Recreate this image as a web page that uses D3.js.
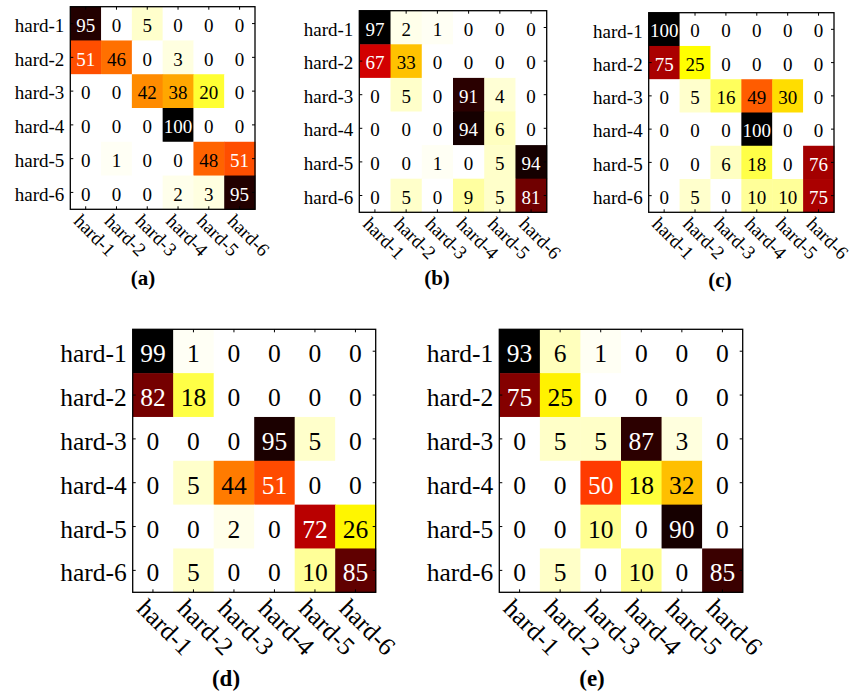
<!DOCTYPE html>
<html>
<head>
<meta charset="utf-8">
<script src="https://cdn.jsdelivr.net/npm/d3@7"></script>
<style>
  body { margin: 0; background: #fff; }
  svg { display: block; }
  svg text { font-family: "Liberation Serif", "Times New Roman", Times, serif; }
</style>
</head>
<body>
<svg id="chart" width="850" height="693"></svg>
<script>
// ---------------- data ----------------
const classes = ["hard-1", "hard-2", "hard-3", "hard-4", "hard-5", "hard-6"];
const panelLabels = ["(a)", "(b)", "(c)", "(d)", "(e)"];

const matrixA = [
  [95, 0, 5, 0, 0, 0],
  [51, 46, 0, 3, 0, 0],
  [0, 0, 42, 38, 20, 0],
  [0, 0, 0, 100, 0, 0],
  [0, 1, 0, 0, 48, 51],
  [0, 0, 0, 2, 3, 95]
];
const matrixB = [
  [97, 2, 1, 0, 0, 0],
  [67, 33, 0, 0, 0, 0],
  [0, 5, 0, 91, 4, 0],
  [0, 0, 0, 94, 6, 0],
  [0, 0, 1, 0, 5, 94],
  [0, 5, 0, 9, 5, 81]
];
const matrixC = [
  [100, 0, 0, 0, 0, 0],
  [75, 25, 0, 0, 0, 0],
  [0, 5, 16, 49, 30, 0],
  [0, 0, 0, 100, 0, 0],
  [0, 0, 6, 18, 0, 76],
  [0, 5, 0, 10, 10, 75]
];
const matrixD = [
  [99, 1, 0, 0, 0, 0],
  [82, 18, 0, 0, 0, 0],
  [0, 0, 0, 95, 5, 0],
  [0, 5, 44, 51, 0, 0],
  [0, 0, 2, 0, 72, 26],
  [0, 5, 0, 0, 10, 85]
];
const matrixE = [
  [93, 6, 1, 0, 0, 0],
  [75, 25, 0, 0, 0, 0],
  [0, 5, 5, 87, 3, 0],
  [0, 0, 50, 18, 32, 0],
  [0, 0, 10, 0, 90, 0],
  [0, 5, 0, 10, 0, 85]
];
const matrices = [matrixA, matrixB, matrixC, matrixD, matrixE];

// ---------------- layout (positions/sizes only) ----------------
const layout = [
  { x0: 70.3,  x1: 255,   y0: 6.7,   y1: 209.3, fs: 19,   cfs: 21, cx: 143, cy: 285 },
  { x0: 359.3, x1: 546.7, y0: 10.7,  y1: 212.3, fs: 19,   cfs: 21, cx: 437, cy: 285 },
  { x0: 648.7, x1: 834,   y0: 12.7,  y1: 212.3, fs: 19,   cfs: 21, cx: 720, cy: 287 },
  { x0: 132.7, x1: 375.7, y0: 329.3, y1: 592.3, fs: 25.5, cfs: 23, cx: 226, cy: 686 },
  { x0: 499.3, x1: 742.7, y0: 329.3, y1: 592.3, fs: 25.5, cfs: 23, cx: 592, cy: 686 }
];

// MATLAB "hot" colormap, flipped (0 -> white, max -> black)
function hot(t) {
  const c = v => Math.max(0, Math.min(1, v));
  const r = c(t / 0.375), g = c((t - 0.375) / 0.375), b = c((t - 0.75) / 0.25);
  return d3.rgb(r * 255, g * 255, b * 255).toString();
}

const svg = d3.select("#chart");
const FONT = "Liberation Serif";

matrices.forEach((m, i) => {
  const L = layout[i];
  const w = L.x1 - L.x0, h = L.y1 - L.y0;
  const g = svg.append("g").attr("transform", `translate(${L.x0},${L.y0})`);

  const x = d3.scaleBand().domain(classes).range([0, w]);
  const y = d3.scaleBand().domain(classes).range([0, h]);
  const vmax = d3.max(m.flat());
  const color = d3.scaleSequential(v => hot(1 - v)).domain([0, vmax]);

  const cells = [];
  m.forEach((row, r) => row.forEach((v, c) => cells.push({ r: classes[r], c: classes[c], v })));

  g.selectAll("rect.cell").data(cells).join("rect")
    .attr("class", "cell")
    .attr("x", d => x(d.c))
    .attr("y", d => y(d.r))
    .attr("width", x.bandwidth() + 0.5)
    .attr("height", y.bandwidth() + 0.5)
    .attr("fill", d => color(d.v));

  g.selectAll("text.val").data(cells).join("text")
    .attr("class", "val")
    .attr("x", d => x(d.c) + x.bandwidth() / 2)
    .attr("y", d => y(d.r) + y.bandwidth() / 2 + 0.43 * L.fs)
    .attr("text-anchor", "middle")
    .style("font-family", FONT)
    .style("font-size", L.fs + "px")
    .attr("fill", d => d.v >= 50 ? "#fff" : "#000")
    .text(d => d.v);

  const tk = 3;
  // left axis (labels + inward ticks)
  const ax = g.append("g").call(d3.axisLeft(y).tickSizeInner(-tk).tickSizeOuter(0).tickPadding(6));
  ax.attr("font-family", null).attr("font-size", null);
  ax.select(".domain").remove();
  ax.selectAll("text").style("font-family", FONT).style("font-size", L.fs + "px")
    .attr("dy", null).attr("y", 0.43 * L.fs).attr("fill", "#000");
  ax.selectAll("line").attr("stroke", "#000");

  // right axis ticks (inward)
  const ar = g.append("g").attr("transform", `translate(${w},0)`)
    .call(d3.axisRight(y).tickSizeInner(-tk).tickSizeOuter(0).tickFormat(""));
  ar.select(".domain").remove();

  // top axis ticks (inward)
  const at = g.append("g").call(d3.axisTop(x).tickSizeInner(-tk).tickSizeOuter(0).tickFormat(""));
  at.select(".domain").remove();

  // bottom axis (rotated labels + inward ticks)
  const ab = g.append("g").attr("transform", `translate(0,${h})`)
    .call(d3.axisBottom(x).tickSizeInner(-tk).tickSizeOuter(0));
  ab.attr("font-family", null).attr("font-size", null);
  ab.select(".domain").remove();
  ab.selectAll("text")
    .style("font-family", FONT).style("font-size", L.fs + "px").attr("fill", "#000")
    .attr("x", 0).attr("y", 0).attr("dy", "0.97em")
    .attr("text-anchor", "start")
    .attr("transform", "rotate(45)");

  // box border
  g.append("rect").attr("x", 0).attr("y", 0).attr("width", w).attr("height", h)
    .attr("fill", "none").attr("stroke", "#000").attr("stroke-width", 1.3);

  // caption
  svg.append("text")
    .attr("x", L.cx).attr("y", L.cy)
    .attr("text-anchor", "middle")
    .style("font-family", FONT).style("font-weight", "bold").style("font-size", L.cfs + "px")
    .text(panelLabels[i]);
});
</script>
</body>
</html>
